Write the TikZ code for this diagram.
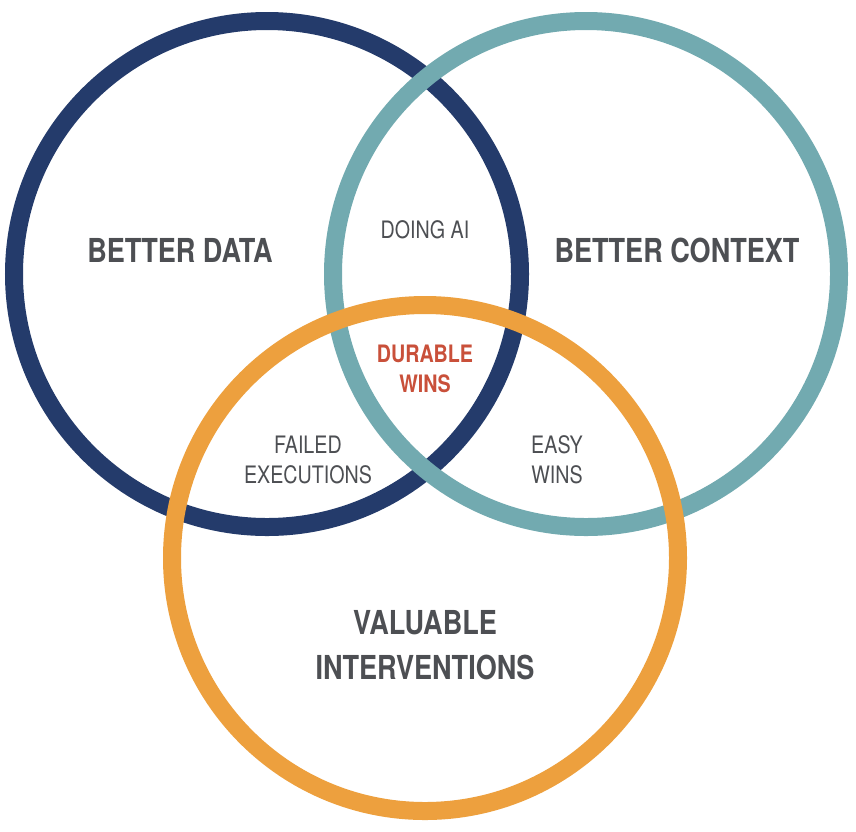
\documentclass[tikz,border=0pt]{standalone}
\usepackage{fontspec}
\setmainfont{TeX Gyre Heros}[FakeStretch=0.82]
\definecolor{cblue}{HTML}{243B6B}
\definecolor{cteal}{HTML}{72AAB0}
\definecolor{corange}{HTML}{EDA03E}
\definecolor{cgray}{HTML}{4D4F53}
\definecolor{cred}{HTML}{C9503A}
\tikzset{ring/.style={line width=18pt},
big/.style={text=cgray,font=\bfseries\fontsize{33}{45}\selectfont,align=center},
small/.style={text=cgray,font=\fontsize{24}{30}\selectfont,align=center},
red/.style={text=cred,font=\bfseries\fontsize{24}{30}\selectfont,align=center}}
\begin{document}
\begin{tikzpicture}[x=1pt,y=-1pt]
\useasboundingbox[fill=white] (0,0) rectangle (856,831);
\draw[ring,cblue] (267,274) circle (253);
\draw[ring,cteal] (586,274) circle (253);
\draw[ring,corange] (425,558) circle (253);
\node[big] (bd) at (180,250) {BETTER DATA};
\node[big] (bc) at (677,250) {BETTER CONTEXT};
\node[big] (vi) at (425,645) {VALUABLE\\INTERVENTIONS};
\node[small] (ai) at (425,230) {DOING AI};
\node[red] (dw) at (425,369) {DURABLE\\WINS};
\node[small] (fe) at (308,460) {FAILED\\EXECUTIONS};
\node[small] (ew) at (557,460) {EASY\\WINS};
\end{tikzpicture}
\end{document}
